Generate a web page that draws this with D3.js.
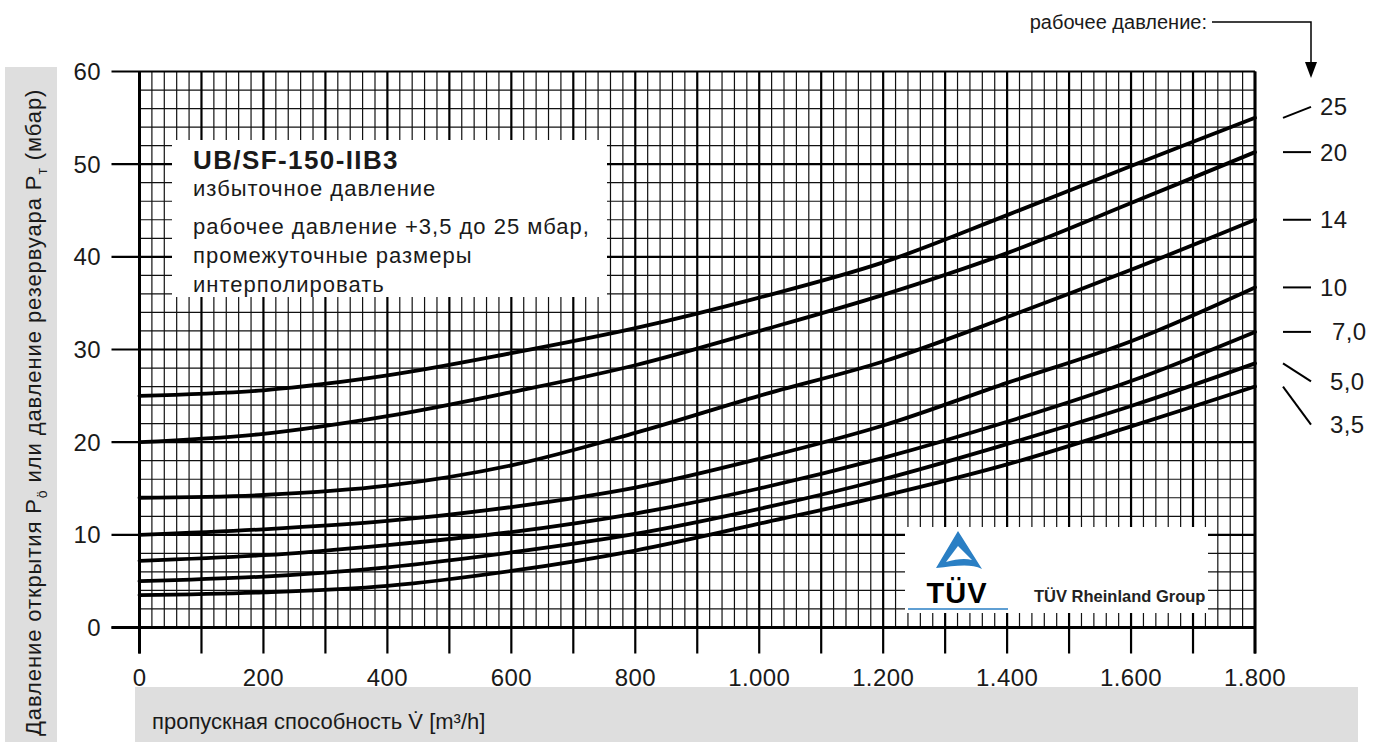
<!DOCTYPE html>
<html>
<head>
<meta charset="utf-8">
<title>UB/SF-150-IIB3</title>
<script src="https://cdn.jsdelivr.net/npm/d3@7"></script>
<style>
body, html {
  margin: 0;
  background: #fff;
}
svg text {
  font-family: "Liberation Sans", Arial, Helvetica, sans-serif;
  fill: #1a1a1a;
}
.minor { stroke: #111; stroke-width: 1.2px; }
.major { stroke: #000; stroke-width: 2.2px; }
.curve { fill: none; stroke: #000; stroke-width: 3.8px; stroke-linecap: round; }
.num { font-size: 24px; letter-spacing: 0.4px; }
</style>
</head>
<body>
<script>
// flow rate V (m3/h) at which the curves were read
var flow = [0, 200, 400, 600, 800, 1000, 1200, 1400, 1600, 1800];

// opening / tank pressure (mbar) for each working pressure
var p25  = [25.0, 25.6, 27.2, 29.6, 32.3, 35.6, 39.4, 44.5, 49.8, 55.0];
var p20  = [20.0, 20.9, 22.8, 25.4, 28.3, 32.0, 35.9, 40.4, 45.8, 51.3];
var p14  = [14.0, 14.3, 15.3, 17.5, 21.0, 25.0, 28.7, 33.5, 38.6, 44.0];
var p10  = [10.0, 10.6, 11.5, 13.0, 15.1, 18.2, 21.8, 26.4, 30.9, 36.7];
var p7   = [7.2, 7.8, 8.9, 10.3, 12.3, 15.0, 18.3, 22.2, 26.6, 31.9];
var p5   = [5.0, 5.5, 6.5, 8.1, 10.1, 12.8, 16.0, 19.8, 23.9, 28.5];
var p3_5 = [3.5, 3.8, 4.5, 6.1, 8.3, 11.2, 14.2, 17.6, 21.7, 26.0];

var series = [p25, p20, p14, p10, p7, p5, p3_5];
var seriesLabels = ["25", "20", "14", "10", "7,0", "5,0", "3,5"];

var xTickValues = [0, 200, 400, 600, 800, 1000, 1200, 1400, 1600, 1800];
var xTickLabels = ["0", "200", "400", "600", "800", "1.000", "1.200", "1.400", "1.600", "1.800"];
var yTickValues = [0, 10, 20, 30, 40, 50, 60];

var W = 1386, H = 742;

var svg = d3.select("body").append("svg")
    .attr("width", W)
    .attr("height", H);

var x = d3.scaleLinear().domain([0, 1800]).range([139.5, 1255]);
var y = d3.scaleLinear().domain([0, 60]).range([627.5, 71.5]);

// grey label bands
svg.append("rect").attr("x", 5).attr("y", 67).attr("width", 52).attr("height", H - 67).attr("fill", "#dedede");
svg.append("rect").attr("x", 135).attr("y", 687).attr("width", 1223).attr("height", H - 687).attr("fill", "#dedede");

var grid = svg.append("g");

// minor grid: every 20 m3/h and every 2 mbar
grid.selectAll(".vmin")
  .data(d3.range(0, 1801, 20).filter(function(d) { return d % 100 != 0; }))
  .enter().append("line")
  .attr("class", "minor")
  .attr("x1", x).attr("x2", x)
  .attr("y1", y(60)).attr("y2", y(0));

grid.selectAll(".hmin")
  .data(d3.range(0, 61, 2).filter(function(d) { return d % 10 != 0; }))
  .enter().append("line")
  .attr("class", "minor")
  .attr("x1", x(0)).attr("x2", x(1800))
  .attr("y1", y).attr("y2", y);

// major grid with tick stubs
grid.selectAll(".vmaj")
  .data(d3.range(0, 1801, 100))
  .enter().append("line")
  .attr("class", "major")
  .attr("x1", x).attr("x2", x)
  .attr("y1", y(60)).attr("y2", y(0) + 26);

grid.selectAll(".hmaj")
  .data(yTickValues)
  .enter().append("line")
  .attr("class", "major")
  .attr("x1", x(0) - 28).attr("x2", x(1800))
  .attr("y1", y).attr("y2", y);

// heavier axis frame
grid.append("line").attr("x1", x(0) - 28).attr("x2", x(1800)).attr("y1", y(0)).attr("y2", y(0))
  .attr("stroke", "#000").attr("stroke-width", 3);
grid.append("line").attr("x1", x(0)).attr("x2", x(0)).attr("y1", y(60)).attr("y2", y(0) + 26)
  .attr("stroke", "#000").attr("stroke-width", 3);
grid.append("line").attr("x1", x(1800)).attr("x2", x(1800)).attr("y1", y(60)).attr("y2", y(0) + 26)
  .attr("stroke", "#000").attr("stroke-width", 3);

// tick labels
svg.selectAll(".xl")
  .data(xTickValues)
  .enter().append("text")
  .attr("class", "num")
  .attr("x", x)
  .attr("y", 686)
  .attr("text-anchor", "middle")
  .text(function(d, i) { return xTickLabels[i]; });

svg.selectAll(".yl")
  .data(yTickValues)
  .enter().append("text")
  .attr("class", "num")
  .attr("x", 101)
  .attr("y", function(d) { return y(d) + 8.5; })
  .attr("text-anchor", "end")
  .text(function(d) { return d; });

// curves
var line = d3.line()
  .x(function(d, i) { return x(flow[i]); })
  .y(function(d) { return y(d); })
  .curve(d3.curveCatmullRom.alpha(0.5));

svg.append("g").selectAll("path")
  .data(series)
  .enter().append("path")
  .attr("class", "curve")
  .attr("d", line);

// info box
var info = svg.append("g");
info.append("rect").attr("x", 172).attr("y", 140).attr("width", 435).attr("height", 157).attr("fill", "#fff");
info.append("text").attr("x", 193).attr("y", 169)
  .style("font-size", "26px").style("font-weight", "bold").style("letter-spacing", "1.4px")
  .text("UB/SF-150-IIB3");
var infoLines = [["избыточное давление", 196], ["рабочее давление +3,5 до 25 мбар,", 234],
                 ["промежуточные размеры", 263], ["интерполировать", 292]];
info.selectAll(".il")
  .data(infoLines)
  .enter().append("text")
  .attr("x", 193)
  .attr("y", function(d) { return d[1]; })
  .style("font-size", "22px")
  .style("letter-spacing", "1px")
  .text(function(d) { return d[0]; });

// TÜV box
var tuv = svg.append("g");
tuv.append("rect").attr("x", 905).attr("y", 527).attr("width", 303).attr("height", 86).attr("fill", "#fff");
tuv.append("path")
  .attr("d", "M958,531 L982,569 C970,563 955,566 936,568 Z M958,546 L946,562 C956,559 965,558 972,560 Z")
  .attr("fill", "#2a7fc4")
  .attr("fill-rule", "evenodd");
tuv.append("text").attr("x", 957).attr("y", 603).attr("text-anchor", "middle")
  .style("font-size", "29px").style("font-weight", "bold").style("letter-spacing", "1px")
  .style("fill", "#000").text("TÜV");
tuv.append("line").attr("x1", 908).attr("x2", 1008).attr("y1", 609).attr("y2", 609)
  .attr("stroke", "#2a7fc4").attr("stroke-width", 1.5);
tuv.append("text").attr("x", 1034).attr("y", 602)
  .style("font-size", "16.5px").style("font-weight", "bold").style("fill", "#222").text("TÜV Rheinland Group");

// working pressure legend
var labelShift = [-11, 0, 0, 0, 0, 18, 38];
var labelX = [1320, 1320, 1320, 1320, 1332, 1330, 1330];
var legend = svg.append("g");
legend.selectAll("line")
  .data(series)
  .enter().append("line")
  .attr("x1", 1283).attr("x2", 1311)
  .attr("y1", function(d) { return y(d[d.length - 1]); })
  .attr("y2", function(d, i) { return y(d[d.length - 1]) + labelShift[i]; })
  .attr("stroke", "#000").attr("stroke-width", 2);
legend.selectAll("text")
  .data(series)
  .enter().append("text")
  .attr("class", "num")
  .attr("x", function(d, i) { return labelX[i]; })
  .attr("y", function(d, i) { return y(d[d.length - 1]) + labelShift[i] + 8.5; })
  .text(function(d, i) { return seriesLabels[i]; });

// "рабочее давление:" pointer
svg.append("text").attr("x", 1207).attr("y", 29).attr("text-anchor", "end")
  .style("font-size", "20px").text("рабочее давление:");
svg.append("path").attr("d", "M1212,22 H1311 V64").attr("fill", "none").attr("stroke", "#000").attr("stroke-width", 1.5);
svg.append("path").attr("d", "M1305,62 L1317,62 L1311,78 Z").attr("fill", "#000");

// axis titles
var yt = svg.append("text")
  .attr("transform", "translate(41,736) rotate(-90)")
  .style("font-size", "22px")
  .style("letter-spacing", "0.9px");
yt.append("tspan").text("Давление открытия P");
yt.append("tspan").attr("dy", 6).style("font-size", "14px").text("ö");
yt.append("tspan").attr("dy", -6).text(" или давление резервуара P");
yt.append("tspan").attr("dy", 6).style("font-size", "14px").text("т");
yt.append("tspan").attr("dy", -6).text(" (мбар)");

svg.append("text").attr("x", 152).attr("y", 729)
  .style("font-size", "22px")
  .text("пропускная способность V\u0307 [m³/h]");
</script>
</body>
</html>
